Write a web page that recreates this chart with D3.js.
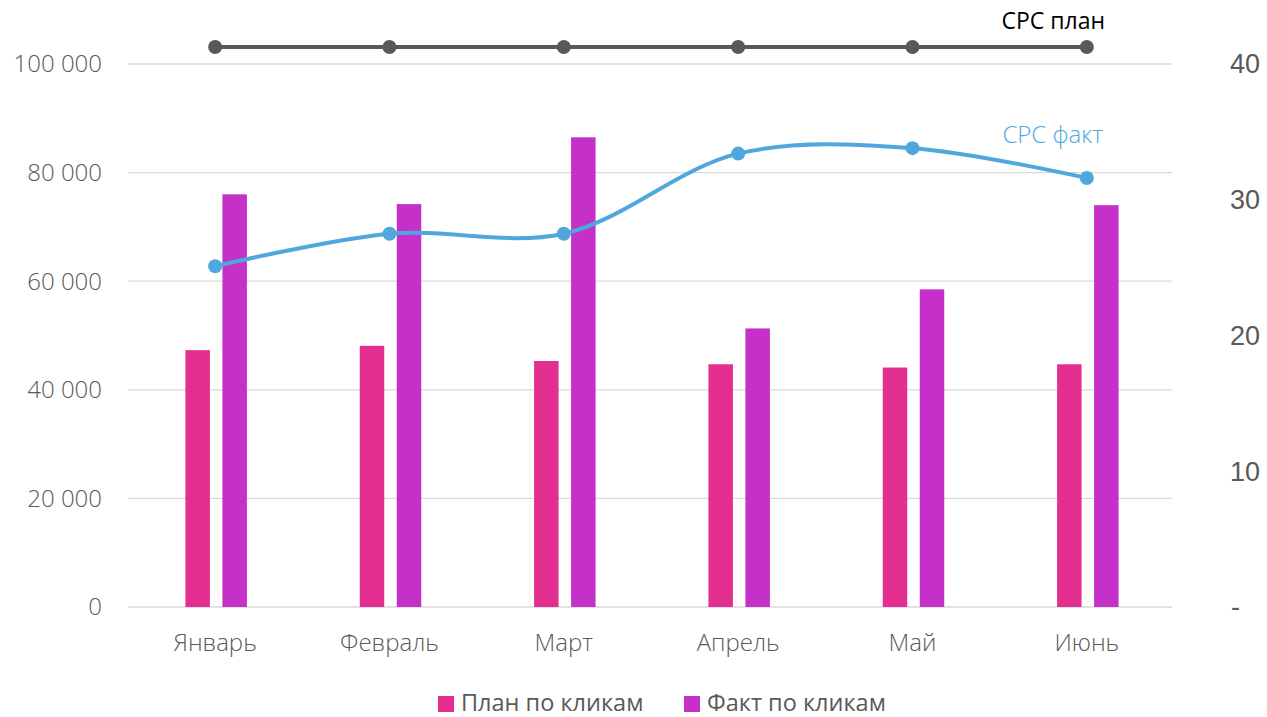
<!DOCTYPE html>
<html><head><meta charset="utf-8">
<script src="https://cdn.jsdelivr.net/npm/d3@7"></script>
<style>body{margin:0;background:#fff}svg{display:block}</style>
</head><body>
<svg id="c" width="1267" height="717"></svg>
<script>
const months = ["Январь","Февраль","Март","Апрель","Май","Июнь"];
const planClicks = [47300, 48100, 45300, 44700, 44100, 44700];
const factClicks = [76000, 74200, 86500, 51300, 58500, 74000];
const cpcPlan = [41.25, 41.25, 41.25, 41.25, 41.25, 41.25];
const cpcFact = [25.1, 27.5, 27.5, 33.4, 33.8, 31.6];
const leftTicks = [0, 20000, 40000, 60000, 80000, 100000];
const rightTicks = [0, 10, 20, 30, 40];
const seriesNames = ["План по кликам","Факт по кликам","CPC план","CPC факт"];

const svg = d3.select("#c");
const L = 128, R = 1174, T = 64, B = 607;
const x = d3.scaleBand().domain(months).range([L, R]);
const yL = d3.scaleLinear().domain([0, 100000]).range([B, T]);
const yR = d3.scaleLinear().domain([0, 40]).range([B, T]);
const fmt = v => d3.format(",")(v).replace(/,/g, " ");
const font = "'Open Sans', 'Noto Sans', sans-serif";

// grid
svg.append("g").selectAll("line").data(leftTicks).join("line")
  .attr("x1", L).attr("x2", R - 2)
  .attr("y1", d => yL(d)).attr("y2", d => yL(d))
  .attr("stroke", "#d9d9d9").attr("stroke-width", 1.3);

// left axis labels
svg.append("g").selectAll("text").data(leftTicks).join("text")
  .attr("x", 102).attr("y", d => yL(d)).attr("dy", "0.35em")
  .attr("text-anchor", "end").attr("font-family", font).attr("font-weight", 300)
  .attr("font-size", 24).attr("fill", "#595959").text(d => d === 0 ? "0" : fmt(d));

// right axis labels
svg.append("g").selectAll("text").data(rightTicks).join("text")
  .attr("x", d => d === 0 ? 1240 : 1260).attr("y", d => yR(d)).attr("dy", "0.35em")
  .attr("text-anchor", "end").attr("font-family", "'Liberation Sans', Arial, sans-serif")
  .attr("font-size", 27).attr("fill", "#595959").text(d => d === 0 ? "-" : d);

// x labels
svg.append("g").selectAll("text").data(months).join("text")
  .attr("x", d => x(d) + x.bandwidth() / 2).attr("y", 643).attr("dy", "0.35em")
  .attr("text-anchor", "middle").attr("font-family", font).attr("font-weight", 300)
  .attr("font-size", 24).attr("fill", "#595959").text(d => d);

// bars
const bw = 24.5, off = 17.5;
const planColor = "#e32f8f", factColor = "#c530c8";
svg.append("g").selectAll("rect").data(planClicks).join("rect")
  .attr("x", (d, i) => x(months[i]) + x.bandwidth() / 2 - off - bw / 2)
  .attr("y", d => yL(d)).attr("width", bw).attr("height", d => B - yL(d))
  .attr("fill", planColor);
svg.append("g").selectAll("rect").data(factClicks).join("rect")
  .attr("x", (d, i) => x(months[i]) + x.bandwidth() / 2 + off + 2 - bw / 2)
  .attr("y", d => yL(d)).attr("width", bw).attr("height", d => B - yL(d))
  .attr("fill", factColor);

const cx = i => x(months[i]) + x.bandwidth() / 2;

// CPC plan line
svg.append("path").datum(cpcPlan)
  .attr("d", d3.line().x((d, i) => cx(i)).y(d => yR(d)))
  .attr("fill", "none").attr("stroke", "#595959").attr("stroke-width", 4);
svg.append("g").selectAll("circle").data(cpcPlan).join("circle")
  .attr("cx", (d, i) => cx(i)).attr("cy", d => yR(d)).attr("r", 7).attr("fill", "#595959");

// CPC fact line
const blue = "#4fa7dd";
svg.append("path").datum(cpcFact)
  .attr("d", d3.line().x((d, i) => cx(i)).y(d => yR(d)).curve(d3.curveCatmullRom.alpha(0.5)))
  .attr("fill", "none").attr("stroke", blue).attr("stroke-width", 4);
svg.append("g").selectAll("circle").data(cpcFact).join("circle")
  .attr("cx", (d, i) => cx(i)).attr("cy", d => yR(d)).attr("r", 7).attr("fill", blue);

// line labels
svg.append("text").attr("x", 1105).attr("y", 21).attr("dy", "0.35em").attr("text-anchor", "end")
  .attr("font-family", font).attr("font-size", 23).attr("fill", "#000").text(seriesNames[2]);
svg.append("text").attr("x", 1103).attr("y", 135).attr("dy", "0.35em").attr("text-anchor", "end")
  .attr("font-family", font).attr("font-weight", 300).attr("font-size", 24).attr("fill", blue).text(seriesNames[3]);

// legend
const leg = [{n: seriesNames[0], c: planColor, x: 438}, {n: seriesNames[1], c: factColor, x: 684}];
const lg = svg.append("g").selectAll("g").data(leg).join("g");
lg.append("rect").attr("x", d => d.x).attr("y", 696).attr("width", 16).attr("height", 16).attr("fill", d => d.c);
lg.append("text").attr("x", d => d.x + 23).attr("y", 711)
  .attr("font-family", font).attr("font-size", 23.5).attr("fill", "#595959").text(d => d.n);
</script>
</body></html>
